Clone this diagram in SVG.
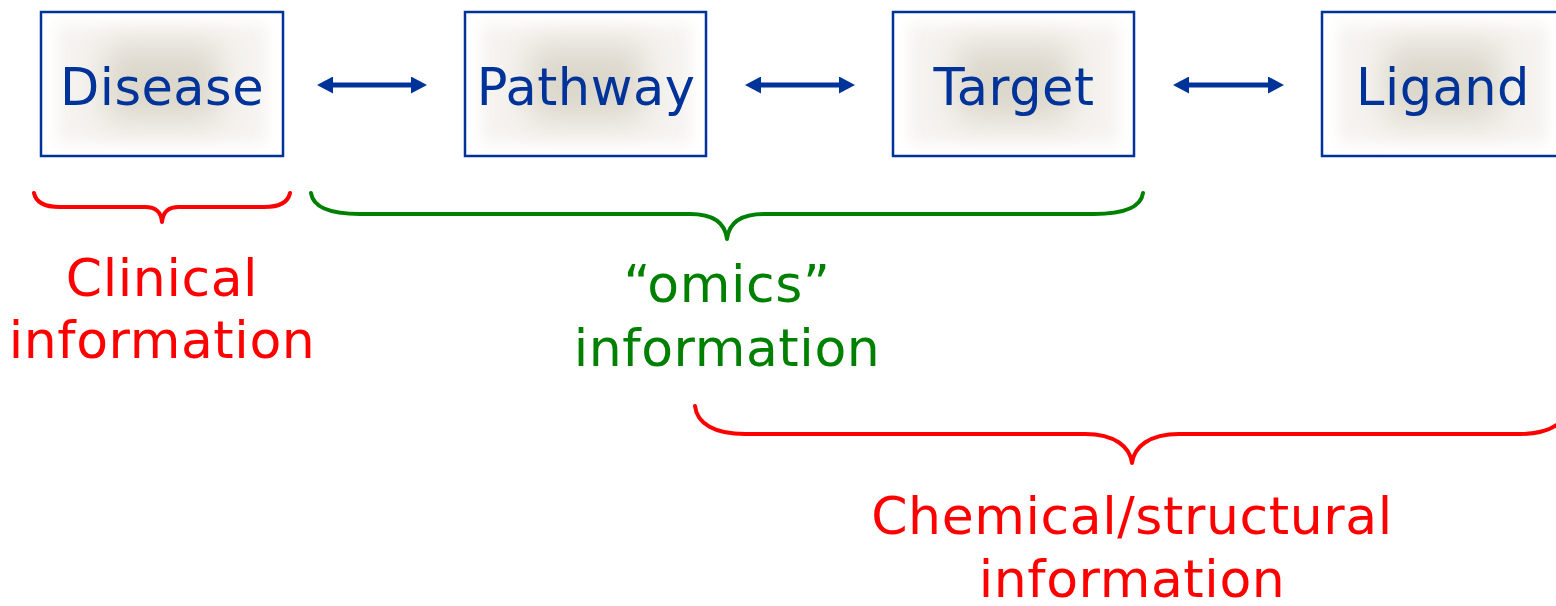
<svg xmlns="http://www.w3.org/2000/svg" width="1556" height="606" viewBox="0 0 1556 606">
<defs>
<filter id="soft" x="-50%" y="-50%" width="200%" height="200%"><feGaussianBlur stdDeviation="16"/></filter>
<filter id="soft2" x="-50%" y="-50%" width="200%" height="200%"><feGaussianBlur stdDeviation="8"/></filter>
<marker id="ah" viewBox="0 0 16 17" refX="2" refY="8.5" markerWidth="16" markerHeight="17" markerUnits="userSpaceOnUse" orient="auto-start-reverse"><path d="M0,0 L16,8.5 L0,17 Z" fill="#003399"/></marker>
<clipPath id="c1"><rect x="42" y="13" width="240" height="142"/></clipPath>
<clipPath id="c2"><rect x="466" y="13" width="240" height="142"/></clipPath>
<clipPath id="c3"><rect x="894" y="13" width="240" height="142"/></clipPath>
<clipPath id="c4"><rect x="1323" y="13" width="240" height="142"/></clipPath>
</defs>
<style>
.box{fill:#fff;stroke:#003399;stroke-width:2.5}
.glow1{fill:#f5f3ef;filter:url(#soft2)}
.glow{fill:#dcd7cb;filter:url(#soft)}
.nt{font-family:"DejaVu Sans",sans-serif;font-size:51px;fill:#003399;text-anchor:middle;letter-spacing:0.5px}
.conn{stroke:#003399;stroke-width:5;fill:none;marker-start:url(#ah);marker-end:url(#ah)}
.br{fill:none;stroke-width:4;stroke-linecap:round;stroke-linejoin:round}
.lb{font-family:"DejaVu Sans",sans-serif;font-size:52px;text-anchor:middle;letter-spacing:0.6px}
</style>
<g id="disease">
<rect class="box" x="41" y="12" width="242" height="144"/>
<g clip-path="url(#c1)"><rect class="glow1" x="58" y="25" width="208" height="118"/><rect class="glow" x="105" y="46" width="114" height="74"/></g>
<text class="nt" x="162" y="105">Disease</text>
</g>
<g id="pathway">
<rect class="box" x="465" y="12" width="241" height="144"/>
<g clip-path="url(#c2)"><rect class="glow1" x="482" y="25" width="208" height="118"/><rect class="glow" x="529" y="46" width="114" height="74"/></g>
<text class="nt" x="586" y="105">Pathway</text>
</g>
<g id="target">
<rect class="box" x="893" y="12" width="241" height="144"/>
<g clip-path="url(#c3)"><rect class="glow1" x="910" y="25" width="208" height="118"/><rect class="glow" x="957" y="46" width="114" height="74"/></g>
<text class="nt" x="1014" y="105">Target</text>
</g>
<g id="ligand">
<rect class="box" x="1322" y="12" width="242" height="144"/>
<g clip-path="url(#c4)"><rect class="glow1" x="1339" y="25" width="208" height="118"/><rect class="glow" x="1386" y="46" width="114" height="74"/></g>
<text class="nt" x="1443" y="105">Ligand</text>
</g>
<g id="connectors">
<line class="conn" x1="331" y1="85" x2="413" y2="85"/>
<line class="conn" x1="759" y1="85" x2="841" y2="85"/>
<line class="conn" x1="1187" y1="85" x2="1270" y2="85"/>
</g>
<g id="clinical">
<path class="br" stroke="#ff0000" d="M34,193 C36,203 46,207 60,207 L145,207 C155,207 161,211 162,222 C163,211 169,207 179,207 L264,207 C278,207 288,203 290,193"/>
<text class="lb" fill="#ff0000" x="162" y="296">Clinical</text>
<text class="lb" fill="#ff0000" x="162" y="358">information</text>
</g>
<g id="omics">
<path class="br" stroke="#008000" d="M311,193 C313,207 330,214 360,214 L690,214 C712,214 725,222 727,239 C729,222 742,214 764,214 L1094,214 C1124,214 1141,207 1143,193"/>
<text class="lb" fill="#008000" x="727" y="302">“omics”</text>
<text class="lb" fill="#008000" x="727" y="366">information</text>
</g>
<g id="chemical">
<path class="br" stroke="#ff0000" d="M695,406 C697,424 715,434 745,434 L1085,434 C1115,434 1130,447 1132,463 C1134,447 1149,434 1179,434 L1520,434 C1538,434 1550,430 1558,424"/>
<text class="lb" fill="#ff0000" x="1132" y="534">Chemical/structural</text>
<text class="lb" fill="#ff0000" x="1132" y="597">information</text>
</g>
</svg>
